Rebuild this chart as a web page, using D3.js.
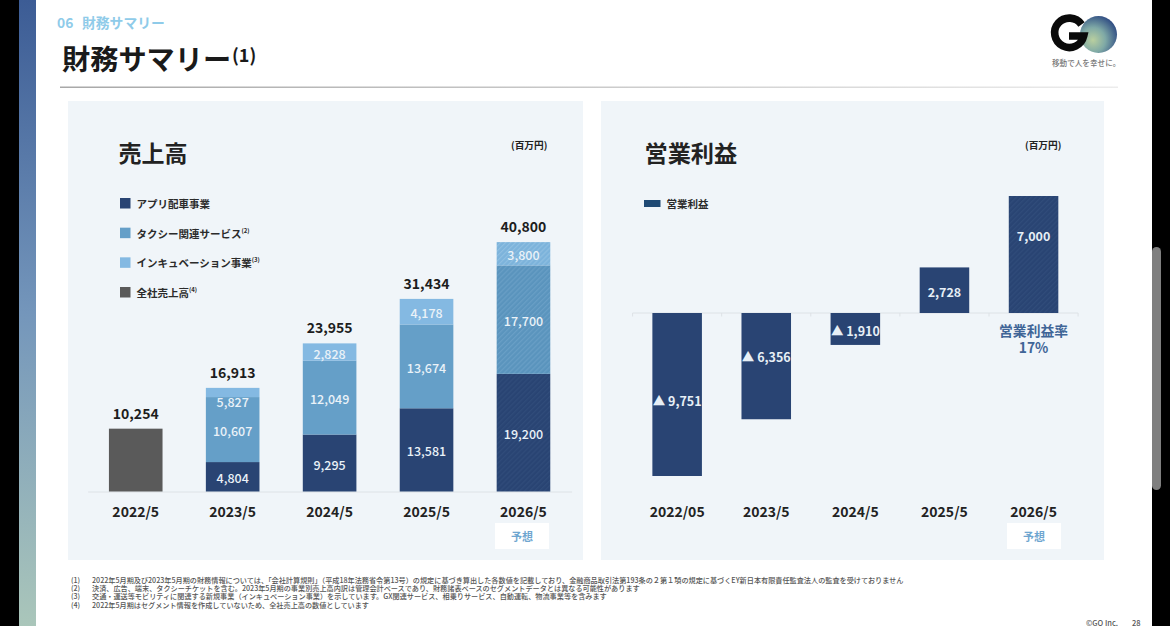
<!DOCTYPE html>
<html>
<head>
<meta charset="utf-8">
<script src="https://cdn.jsdelivr.net/npm/d3@7"></script>
<style>
  html, body { margin: 0; padding: 0; background: #000; overflow: hidden; }
  text { font-family: "Noto Sans CJK JP", "Noto Sans", sans-serif; }
</style>
</head>
<body>
<div id="chart"></div>
<script>
// data
const salesYears = ["2022/5", "2023/5", "2024/5", "2025/5", "2026/5"];
const profitYears = ["2022/05", "2023/5", "2024/5", "2025/5", "2026/5"];
const appSales = [0, 4804, 9295, 13581, 19200];
const taxiSales = [0, 10607, 12049, 13674, 17700];
const incubationSales = [0, 1502, 2828, 4178, 3800];   // bar height of 2023 is smaller than its printed label
const incubationLabels = ["", "5,827", "2,828", "4,178", "3,800"];
const companySales = [10254, 0, 0, 0, 0];
const salesTotals = [10254, 16913, 23955, 31434, 40800];
const profit = [-9751, -6356, -1910, 2728, 7000];
const profitLabelAt = [-5206, -2573, -1017, 1316, 4608];  // where the number sits on the value scale
const salesLegend = ["アプリ配車事業", "タクシー関連サービス", "インキュベーション事業", "全社売上高"];
const salesLegendNotes = ["", "(2)", "(3)", "(4)"];
const footnotes = [
  ["(1)", "2022年5月期及び2023年5月期の財務情報については、「会社計算規則」（平成18年法務省令第13号）の規定に基づき算出した各数値を記載しており、金融商品取引法第193条の２第１項の規定に基づくEY新日本有限責任監査法人の監査を受けておりません"],
  ["(2)", "決済、広告、端末、タクシーチケットを含む。2023年5月期の事業別売上高内訳は管理会計ベースであり、財務諸表ベースのセグメントデータとは異なる可能性があります"],
  ["(3)", "交通・運送等モビリティに関連する新規事業（インキュベーション事業）を示しています。GX関連サービス、相乗りサービス、自動運転、物流事業等を含みます"],
  ["(4)", "2022年5月期はセグメント情報を作成していないため、全社売上高の数値としています"]
];

const colors = ["#294473", "#659fc8", "#84b9e2", "#5a5a5a"];
const hatchBase = ["#294473", "#5a94bd", "#7cb3db", "#5a5a5a"];
const hatchLines = ["#304c7a", "#699fc6", "#8fbfe1", "#5a5a5a"];
const forecast = "2026/5";

const svg = d3.select("#chart").append("svg")
  .attr("width", 1170).attr("height", 626)
  .style("display", "block");
const defs = svg.append("defs");

// slide background
const strip = defs.append("linearGradient").attr("id", "strip")
  .attr("x1", 0).attr("y1", 0).attr("x2", 0).attr("y2", 1);
strip.append("stop").attr("offset", "0%").attr("stop-color", "#3c5c95");
strip.append("stop").attr("offset", "50%").attr("stop-color", "#7496bb");
strip.append("stop").attr("offset", "100%").attr("stop-color", "#aac6ba");

const rule = defs.append("linearGradient").attr("id", "rule");
rule.append("stop").attr("offset", "0%").attr("stop-color", "#a8a8a8");
rule.append("stop").attr("offset", "100%").attr("stop-color", "#ececec");

const orb = defs.append("radialGradient").attr("id", "orb")
  .attr("cx", "35%").attr("cy", "65%").attr("r", "75%");
orb.append("stop").attr("offset", "0%").attr("stop-color", "#b9cf9f");
orb.append("stop").attr("offset", "45%").attr("stop-color", "#7fa9a6");
orb.append("stop").attr("offset", "100%").attr("stop-color", "#26427f");

colors.forEach((c, i) => {
  const p = defs.append("pattern").attr("id", "hatch" + i)
    .attr("patternUnits", "userSpaceOnUse")
    .attr("width", 3.5).attr("height", 3.5)
    .attr("patternTransform", "rotate(45)");
  p.append("rect").attr("width", 3.5).attr("height", 3.5).attr("fill", hatchBase[i]);
  p.append("rect").attr("width", 1.2).attr("height", 3.5).attr("fill", hatchLines[i]);
});

svg.append("rect").attr("x", 19).attr("width", 1133).attr("height", 626).attr("fill", "#fff");
svg.append("rect").attr("x", 19).attr("width", 17).attr("height", 626).attr("fill", "url(#strip)");
svg.append("rect").attr("x", 1152).attr("y", 247).attr("width", 9).attr("height", 243)
  .attr("rx", 4.5).attr("fill", "#7f7f7f");

// header
svg.append("text").attr("x", 57).attr("y", 27.5)
  .attr("font-size", 13.8).attr("font-weight", 700).attr("fill", "#8fcbe9").text("06");
svg.append("text").attr("x", 82).attr("y", 27.5)
  .attr("font-size", 13.8).attr("font-weight", 700).attr("fill", "#8fcbe9").text("財務サマリー");
svg.append("text").attr("x", 62).attr("y", 70)
  .attr("font-size", 28.2).attr("font-weight", 700).attr("fill", "#1a1a1a").text("財務サマリー");
svg.append("text").attr("x", 232).attr("y", 62)
  .attr("font-size", 18).attr("font-weight", 700).attr("fill", "#1a1a1a").text("(1)");
svg.append("rect").attr("x", 60).attr("y", 86.5).attr("width", 1058).attr("height", 1.5).attr("fill", "url(#rule)");

// logo
svg.append("circle").attr("cx", 1098.5).attr("cy", 34.5).attr("r", 18.5).attr("fill", "url(#orb)");
svg.append("path").attr("d", "M1081.5 24.5 A14.7 14.7 0 1 0 1083.7 36 H1069")
  .attr("fill", "none").attr("stroke", "#0a0a0a").attr("stroke-width", 7.6);
svg.append("text").attr("x", 1052).attr("y", 65.5)
  .attr("font-size", 7.6).attr("font-weight", 500).attr("fill", "#777").text("移動で人を幸せに。");

// panels
svg.append("rect").attr("x", 68).attr("y", 101).attr("width", 515).attr("height", 459).attr("fill", "#f0f5f9");
svg.append("rect").attr("x", 601).attr("y", 101).attr("width", 503).attr("height", 459).attr("fill", "#f0f5f9");

const panelText = (x, y, size, str) => svg.append("text").attr("x", x).attr("y", y)
  .attr("font-size", size).attr("font-weight", 700).attr("fill", "#222").text(str);
panelText(118.5, 161.5, 23, "売上高");
panelText(644.5, 161.5, 23.2, "営業利益");
panelText(511, 148.5, 9.7, "(百万円)");
panelText(1025, 148.5, 9.7, "(百万円)");

// ---- 売上高 (stacked)
const xSales = d3.scaleBand().domain(salesYears).range([87.6, 571.6])
  .paddingInner(0.447).paddingOuter(0.22);
const ySales = d3.scaleLinear().domain([0, 40800]).range([491.5, 241.5]);

const salesRows = salesYears.map((year, i) => ({
  year, app: appSales[i], taxi: taxiSales[i], incubation: incubationSales[i], company: companySales[i]
}));
const stacked = d3.stack().keys(["app", "taxi", "incubation", "company"])(salesRows);

const salesAxis = svg.append("g").attr("transform", "translate(0,491.5)")
  .call(d3.axisBottom(xSales).tickSize(0).tickPadding(11.5));
salesAxis.select(".domain").attr("stroke", "#dde2e6");
salesAxis.selectAll("text").attr("font-size", 14).attr("font-weight", 700).attr("fill", "#222")
  .attr("dy", "1em");

stacked.forEach((layer, k) => {
  svg.append("g").selectAll("rect").data(layer).join("rect")
    .attr("x", d => xSales(d.data.year))
    .attr("width", xSales.bandwidth())
    .attr("y", d => ySales(d[1]))
    .attr("height", d => ySales(d[0]) - ySales(d[1]))
    .attr("fill", d => d.data.year === forecast ? `url(#hatch${k})` : colors[k]);
});

stacked.slice(0, 3).forEach((layer, k) => {
  svg.append("g").selectAll("text").data(layer.filter(d => d[1] > d[0])).join("text")
    .attr("x", d => xSales(d.data.year) + xSales.bandwidth() / 2)
    .attr("y", d => {
      const h = ySales(d[0]) - ySales(d[1]);
      return (ySales(d[0]) + ySales(d[1])) / 2 + (h < 12 ? 9 : 1);
    })
    .attr("text-anchor", "middle").attr("dominant-baseline", "central")
    .attr("font-size", 12.5).attr("font-weight", 500).attr("fill", "#eaf2f8")
    .text(d => k === 2 ? incubationLabels[salesYears.indexOf(d.data.year)]
      : d3.format(",")(d[1] - d[0]));
});

const stackTops = salesYears.map((y, i) => appSales[i] + taxiSales[i] + incubationSales[i] + companySales[i]);
svg.append("g").selectAll("text").data(salesYears).join("text")
  .attr("x", d => xSales(d) + xSales.bandwidth() / 2)
  .attr("y", (d, i) => ySales(stackTops[i]) - 10)
  .attr("text-anchor", "middle")
  .attr("font-size", 14).attr("font-weight", 700).attr("fill", "#1d1d1d")
  .text((d, i) => d3.format(",")(salesTotals[i]));

const legendY = d3.scalePoint().domain(salesLegend).range([203, 292]);
const legend = svg.append("g").selectAll("g").data(salesLegend).join("g")
  .attr("transform", d => `translate(120,${legendY(d)})`);
legend.append("rect").attr("y", -5).attr("width", 10.5).attr("height", 10.5)
  .attr("fill", (d, i) => colors[i]);
const legendText = legend.append("text").attr("x", 16.5).attr("y", 0)
  .attr("dominant-baseline", "central")
  .attr("font-size", 10.5).attr("font-weight", 700).attr("fill", "#2b2b2b");
legendText.append("tspan").text(d => d);
legendText.append("tspan").attr("font-size", 6).attr("dy", -3)
  .text((d, i) => salesLegendNotes[i]);

// ---- 営業利益
const xProfit = d3.scaleBand().domain(profitYears).range([632.6, 1078.1])
  .paddingInner(0.444).paddingOuter(0.222);
const yProfit = d3.scaleLinear().domain([-9751, 7000]).range([476, 196]);
const step = xProfit.step();

const bottomAxis = svg.append("g").attr("transform", "translate(0,491.5)")
  .call(d3.axisBottom(xProfit).tickSize(0).tickPadding(11.5));
bottomAxis.select(".domain").remove();
bottomAxis.selectAll("text").attr("font-size", 14).attr("font-weight", 700).attr("fill", "#222")
  .attr("dy", "1em");

// zero line with ticks between the categories
const zero = yProfit(0);
svg.append("line").attr("x1", 632.6).attr("x2", 1078.1).attr("y1", zero).attr("y2", zero).attr("stroke", "#dde2e6");
svg.append("g").selectAll("line").data(d3.range(6)).join("line")
  .attr("x1", d => 632.6 + d * step).attr("x2", d => 632.6 + d * step)
  .attr("y1", zero).attr("y2", zero + 3.5).attr("stroke", "#dde2e6");

svg.append("g").selectAll("rect").data(profitYears).join("rect")
  .attr("x", d => xProfit(d))
  .attr("width", xProfit.bandwidth())
  .attr("y", (d, i) => yProfit(Math.max(0, profit[i])))
  .attr("height", (d, i) => Math.abs(yProfit(profit[i]) - zero))
  .attr("fill", (d, i) => i === 4 ? "url(#hatch0)" : colors[0]);

svg.append("g").selectAll("text").data(profitYears).join("text")
  .attr("x", d => xProfit(d) + xProfit.bandwidth() / 2)
  .attr("y", (d, i) => yProfit(profitLabelAt[i]))
  .attr("text-anchor", "middle").attr("dominant-baseline", "central")
  .attr("font-size", 12.5).attr("font-weight", 700).attr("fill", "#e6eff6")
  .text((d, i) => (profit[i] < 0 ? "▲ " : "") + d3.format(",")(Math.abs(profit[i])));

const rateX = xProfit(forecast) + xProfit.bandwidth() / 2;
const rate = svg.append("text").attr("y", 336)
  .attr("text-anchor", "middle")
  .attr("font-size", 13.8).attr("font-weight", 700).attr("fill", "#3f6597");
rate.append("tspan").attr("x", rateX).text("営業利益率");
rate.append("tspan").attr("x", rateX).attr("dy", 17).text("17%");

svg.append("rect").attr("x", 644).attr("y", 200).attr("width", 16.5).attr("height", 7).attr("fill", "#1f4a74");
svg.append("text").attr("x", 666.5).attr("y", 203.5).attr("dominant-baseline", "central")
  .attr("font-size", 10.5).attr("font-weight", 700).attr("fill", "#2b2b2b").text("営業利益");

// 予想 tags
[495, 1007].forEach(x => {
  svg.append("rect").attr("x", x).attr("y", 523).attr("width", 54).attr("height", 26).attr("fill", "#fff");
  svg.append("text").attr("x", x + 27).attr("y", 536).attr("text-anchor", "middle")
    .attr("dominant-baseline", "central")
    .attr("font-size", 11).attr("font-weight", 700).attr("fill", "#6fa6d0").text("予想");
});

// footnotes
const notes = svg.append("g").selectAll("g").data(footnotes).join("g")
  .attr("transform", (d, i) => `translate(71,${579.5 + i * 8.4})`)
  .attr("font-size", 7.15).attr("font-weight", 500).attr("fill", "#555");
notes.append("text").attr("dominant-baseline", "central").text(d => d[0]);
notes.append("text").attr("x", 21).attr("dominant-baseline", "central").text(d => d[1]);

svg.append("text").attr("x", 1086).attr("y", 625.5)
  .attr("font-size", 7.5).attr("font-weight", 500).attr("fill", "#555").text("©GO Inc.");
svg.append("text").attr("x", 1132).attr("y", 625.5)
  .attr("font-size", 7.5).attr("font-weight", 500).attr("fill", "#555").text("28");
</script>
</body>
</html>
